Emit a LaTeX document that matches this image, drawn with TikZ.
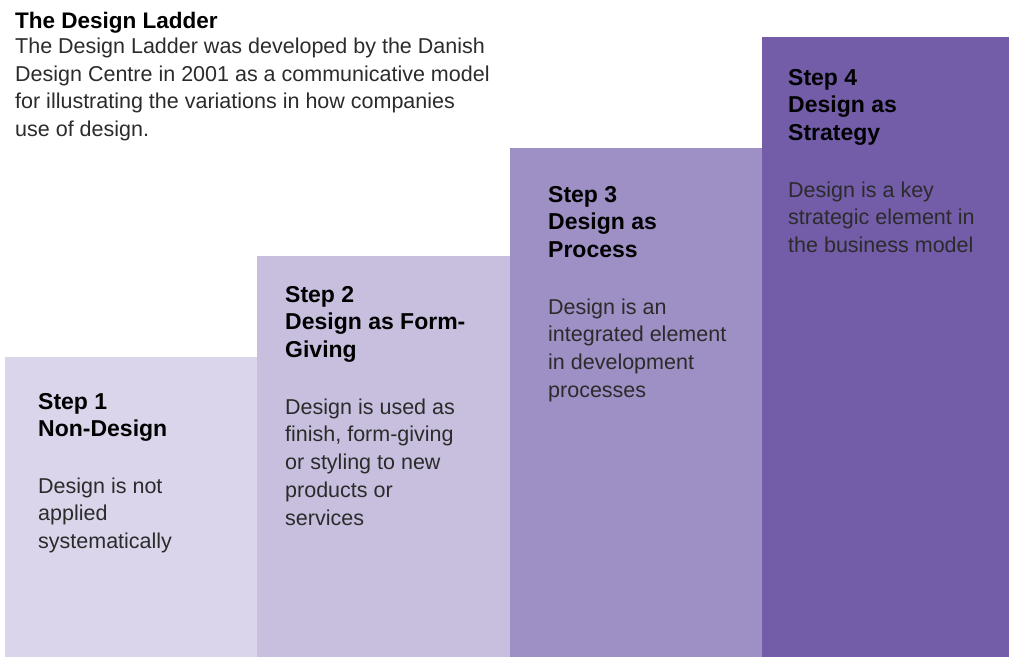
\documentclass[tikz,border=0pt]{standalone}
\usepackage{fontspec}
\setmainfont{Liberation Sans}
\definecolor{stepone}{HTML}{DAD5EA}
\definecolor{steptwo}{HTML}{C8BFDE}
\definecolor{stepthree}{HTML}{9E8FC5}
\definecolor{stepfour}{HTML}{735CA8}
\definecolor{bodygray}{HTML}{2B2B2B}
\begin{document}
\begin{tikzpicture}[x=1pt,y=-1pt,
  titletext/.style={anchor=north west, inner sep=0pt, align=left,
    font=\fontsize{22.5}{25}\selectfont\bfseries, text=black},
  introtext/.style={anchor=north west, inner sep=0pt, align=left,
    font=\fontsize{21.5}{27.6}\selectfont, text=bodygray},
  head/.style={anchor=north west, inner sep=0pt, align=left,
    font=\fontsize{23}{27.7}\selectfont\bfseries, text=black},
  desc/.style={anchor=north west, inner sep=0pt, align=left,
    font=\fontsize{21.5}{27.7}\selectfont, text=bodygray},
]
\useasboundingbox (0,0) rectangle (1009,657);

% the four rungs of the ladder
\fill[stepone]   (5,357)   rectangle (257,657);
\fill[steptwo]   (257,256) rectangle (510,657);
\fill[stepthree] (510,148) rectangle (762,657);
\fill[stepfour]  (762,37)  rectangle (1009,657);

% heading and introduction
\node[titletext] (title) at (15,10.5) {\strut The Design Ladder};
\node[introtext] (intro) at (15,34.1) {\strut The Design Ladder was developed by the Danish\\
  Design Centre in 2001 as a communicative model\\
  for illustrating the variations in how companies\\
  use of design.};

% step 1
\node[head] (h1) at (38,389.6) {\strut Step 1\\Non-Design};
\node[desc] (d1) at (38,473.6) {\strut Design is not\\applied\\systematically};

% step 2
\node[head] (h2) at (285,282.6) {\strut Step 2\\Design as Form-\\Giving};
\node[desc] (d2) at (285,394.6) {\strut Design is used as\\finish, form-giving\\or styling to new\\products or\\services};

% step 3
\node[head] (h3) at (548,182.6) {\strut Step 3\\Design as\\Process};
\node[desc] (d3) at (548,294.6) {\strut Design is an\\integrated element\\in development\\processes};

% step 4
\node[head] (h4) at (788,65.6) {\strut Step 4\\Design as\\Strategy};
\node[desc] (d4) at (788,177.6) {\strut Design is a key\\strategic element in\\the business model};
\end{tikzpicture}
\end{document}
